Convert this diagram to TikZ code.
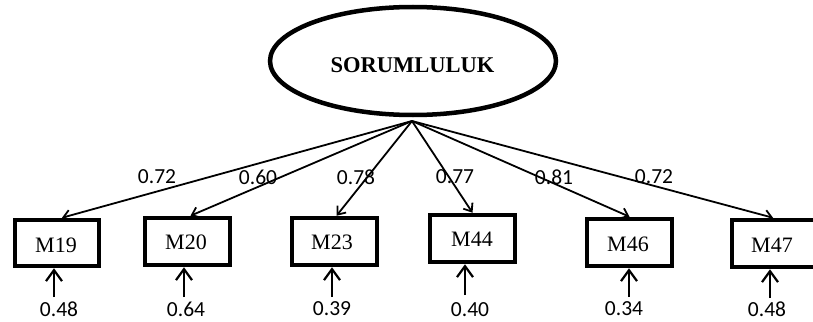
\documentclass[tikz,border=0pt]{standalone}
\usepackage{fontspec}
\setmainfont{Liberation Serif}
\newfontfamily\numfont{Carlito}
\usetikzlibrary{shapes.geometric,arrows.meta}
\tikzset{
  latent/.style={ellipse,draw,line width=4.5pt,minimum width=286pt,minimum height=108pt,inner sep=0pt,
    font=\fontsize{22}{24}\selectfont\bfseries},
  obsbox/.style={rectangle,draw,line width=4.5pt,minimum width=84pt,minimum height=46pt,inner sep=0pt,
    font=\fontsize{22}{24}\selectfont},
  loadarrow/.style={line width=1.8pt,-{Straight Barb[length=7pt,width=11pt,line width=1.8pt]}},
  errarrow/.style={line width=2.2pt,-{Straight Barb[length=11pt,width=16pt,line width=2.2pt]}},
  numlab/.style={font=\numfont\fontsize{21.5}{24}\selectfont,inner sep=0pt},
}
\begin{document}
\begin{tikzpicture}[x=1pt,y=-1pt]
\clip (0,0) rectangle (813,321);
\node[latent] (F) at (413,61) {};
\node[font=\fontsize{22.5}{24}\selectfont\bfseries,inner sep=0pt] (Ft) at (412.5,65) {SORUMLULUK};
\coordinate (src) at (412,121);

\node[obsbox] (m19) at (57,243) {};
\node[obsbox,minimum width=85pt,minimum height=47pt] (m20) at (187.5,241.5) {};
\node[obsbox,minimum width=85pt,minimum height=47pt] (m23) at (334.5,241.5) {};
\node[obsbox,minimum width=85pt,minimum height=47pt] (m44) at (472.5,238.5) {};
\node[obsbox,minimum width=85pt,minimum height=47pt] (m46) at (629.5,242.5) {};
\node[obsbox,minimum width=84pt,minimum height=47pt] (m47) at (774,243.5) {};

\node[font=\fontsize{22}{24}\selectfont,inner sep=0pt] (t19) at (56,245.5) {M19};
\node[font=\fontsize{22}{24}\selectfont,inner sep=0pt] (t20) at (186,242.5) {M20};
\node[font=\fontsize{22}{24}\selectfont,inner sep=0pt] (t23) at (332,242.5) {M23};
\node[font=\fontsize{22}{24}\selectfont,inner sep=0pt] (t44) at (472,239.5) {M44};
\node[font=\fontsize{22}{24}\selectfont,inner sep=0pt] (t46) at (628,244.5) {M46};
\node[font=\fontsize{22}{24}\selectfont,inner sep=0pt] (t47) at (772,245.5) {M47};

\draw[loadarrow] (src) -- ([xshift=5pt]m19.north);
\draw[loadarrow] (src) -- ([xshift=3pt]m20.north);
\draw[loadarrow] (src) -- ([xshift=2pt]m23.north);
\draw[loadarrow] (src) -- (m44.north);
\draw[loadarrow] (src) -- (m46.north);
\draw[loadarrow] (src) -- ([xshift=-1pt]m47.north);

\node[numlab] (l19) at (157,177) {0.72};
\node[numlab] (l20) at (258,177) {0.60};
\node[numlab] (l23) at (356,177) {0.78};
\node[numlab] (l44) at (455,177) {0.77};
\node[numlab] (l46) at (554,177) {0.81};
\node[numlab] (l47) at (654,177) {0.72};

\coordinate (e19) at (54,297);
\coordinate (e20) at (184,297);
\coordinate (e23) at (332,297);
\coordinate (e44) at (465,295);
\coordinate (e46) at (629,297);
\coordinate (e47) at (770,298);
\draw[errarrow] (e19) -- (e19 |- m19.south);
\draw[errarrow] (e20) -- (e20 |- m20.south);
\draw[errarrow] (e23) -- (e23 |- m23.south);
\draw[errarrow] (e44) -- (e44 |- m44.south);
\draw[errarrow] (e46) -- (e46 |- m46.south);
\draw[errarrow] (e47) -- (e47 |- m47.south);

\node[numlab] (r19) at (59,309) {0.48};
\node[numlab] (r20) at (186,309) {0.64};
\node[numlab] (r23) at (332,309) {0.39};
\node[numlab] (r44) at (470,310) {0.40};
\node[numlab] (r46) at (624,309) {0.34};
\node[numlab] (r47) at (767,309) {0.48};
\end{tikzpicture}
\end{document}
